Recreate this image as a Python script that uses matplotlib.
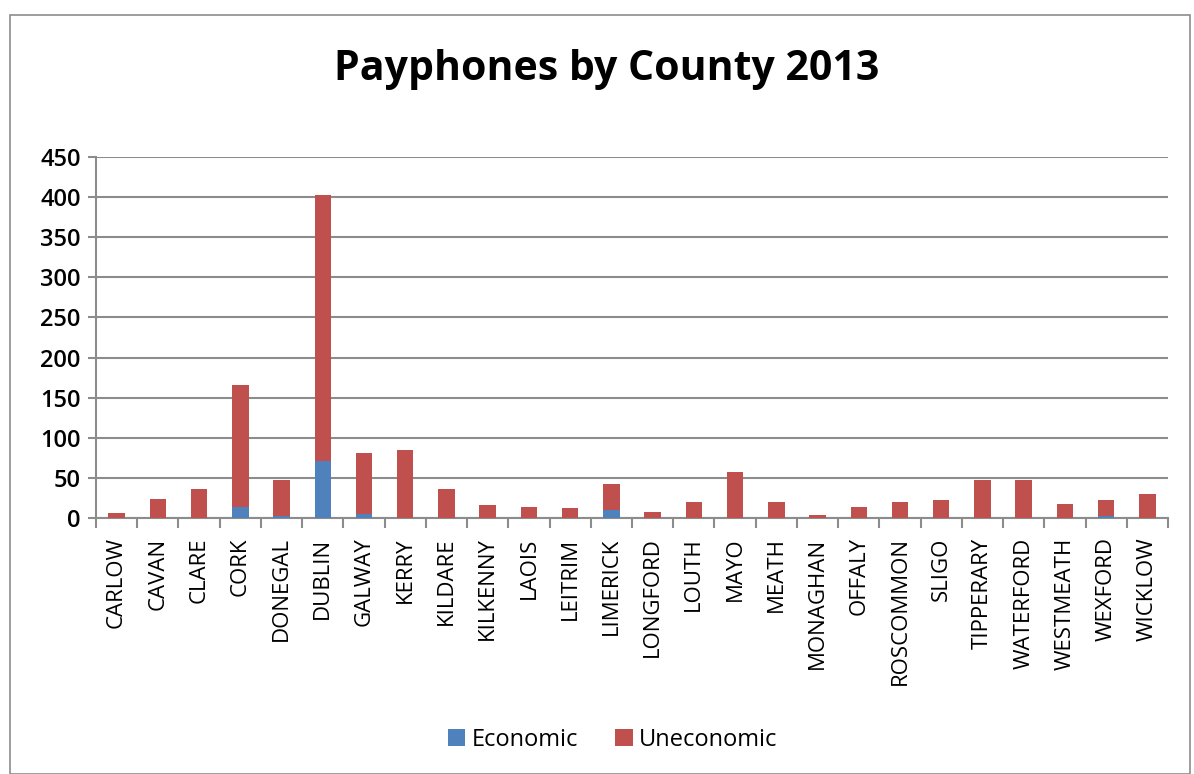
import numpy as np
from matplotlib import pyplot as plt
from matplotlib.patches import Rectangle

counties = ['CARLOW', 'CAVAN', 'CLARE', 'CORK', 'DONEGAL', 'DUBLIN', 'GALWAY', 'KERRY',
            'KILDARE', 'KILKENNY', 'LAOIS', 'LEITRIM', 'LIMERICK', 'LONGFORD', 'LOUTH',
            'MAYO', 'MEATH', 'MONAGHAN', 'OFFALY', 'ROSCOMMON', 'SLIGO', 'TIPPERARY',
            'WATERFORD', 'WESTMEATH', 'WEXFORD', 'WICKLOW']
economic = [0, 0, 0, 14, 2, 71, 5, 0, 0, 0, 0, 0, 10, 0, 0, 0, 0, 0, 0, 0, 0, 0, 0, 0, 3, 0]
uneconomic = [6, 24, 36, 152, 45, 332, 76, 85, 36, 16, 14, 12, 32, 8, 20, 57, 20, 4, 14, 20,
              23, 47, 47, 18, 20, 30]

plt.rcParams['font.family'] = ['Open Sans', 'DejaVu Sans']

fig = plt.figure(figsize=(11.94, 7.74), dpi=100)
ax = fig.add_axes([96 / 1194, 1 - 518 / 774, (1168 - 96) / 1194, (518 - 157) / 774])

x = np.arange(len(counties))
ax.bar(x, economic, width=0.4, color='#4F81BD', label='Economic', zorder=3)
ax.bar(x, uneconomic, width=0.4, bottom=economic, color='#C0504D', label='Uneconomic', zorder=3)

ax.set_xlim(-0.5, len(counties) - 0.5)
ax.set_ylim(0, 450)
ax.set_yticks(np.arange(0, 451, 50))
ax.yaxis.grid(True, color='#8C8C8C', lw=1.5, zorder=0)
ax.set_axisbelow(True)

ax.set_xticks(x)
ax.set_xticklabels(counties, rotation=90, fontsize=16)
ax.set_xticks(np.arange(-0.5, len(counties)), minor=True)
ax.tick_params(axis='x', which='major', length=0, pad=14)
ax.tick_params(axis='x', which='minor', length=7, width=1.5, color='#8C8C8C', direction='out')
ax.tick_params(axis='y', length=6, width=1.5, color='#8C8C8C', labelsize=17, pad=5)
for lab in ax.get_yticklabels():
    lab.set_fontweight('semibold')

for s in ['top', 'right']:
    ax.spines[s].set_visible(False)
for s in ['left', 'bottom']:
    ax.spines[s].set_color('#8C8C8C')
    ax.spines[s].set_linewidth(1.5)

fig.text(0.508, 0.910, 'Payphones by County 2013', ha='center', va='center',
         fontsize=29.5, fontweight='bold')

fig.legend(loc='center', bbox_to_anchor=(0.513, 0.044), ncol=2, frameon=False,
           fontsize=17, handlelength=0.75, handleheight=0.75, handletextpad=0.25,
           columnspacing=1.6)

fig.add_artist(Rectangle((10 / 1194, 0.0), 1180 / 1194, 1 - 15 / 774,
                         transform=fig.transFigure, fill=False, edgecolor='#8C8C8C', lw=1.2))

fig.savefig('out.png', dpi=100)
